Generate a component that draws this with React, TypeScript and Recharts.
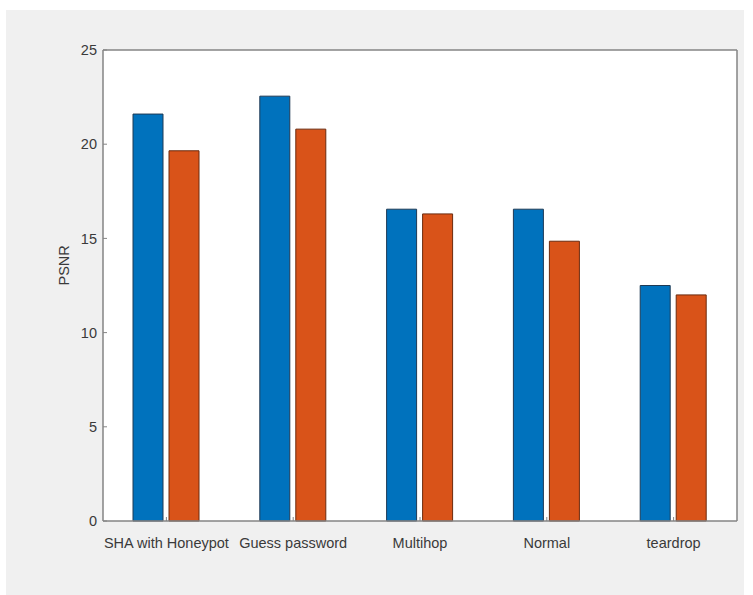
import React from 'react';
import { BarChart, Bar, XAxis, YAxis, CartesianGrid } from 'recharts';

const categories = ['SHA with Honeypot', 'Guess password', 'Multihop', 'Normal', 'teardrop'];
const firstSeries = [21.6, 22.55, 16.55, 16.55, 12.5];
const secondSeries = [19.65, 20.8, 16.3, 14.85, 12.0];
const yTicks = [0, 5, 10, 15, 20, 25];

const data = categories.map((name, i) => ({ name, a: firstSeries[i], b: secondSeries[i] }));

const AXIS = '#858585';
const TEXT = '#3a3a3a';
const FONT = '"Liberation Sans", Arial, sans-serif';

export default function App() {
  return (
    <div style={{ position: 'absolute', left: 0, top: 0, width: 753, height: 595, background: '#fff', overflow: 'hidden' }}>
      {/* figure background */}
      <div style={{ position: 'absolute', left: 6, top: 10, width: 738, height: 585, background: '#f0f0f0' }} />
      <div style={{ position: 'absolute', left: 0, top: 0 }}>
        <BarChart
          width={753}
          height={595}
          data={data}
          margin={{ top: 49, right: 15, left: 0, bottom: 0 }}
          barSize={30}
          barGap={6}
          style={{ fontFamily: FONT }}
        >
          <CartesianGrid horizontal={false} vertical={false} fill="#fff" />
          <XAxis
            dataKey="name"
            height={74}
            axisLine={{ stroke: AXIS, strokeWidth: 1.5 }}
            tickLine={{ stroke: AXIS }}
            tickSize={-4}
            tickMargin={21}
            tick={{ fill: TEXT, fontSize: 14.5 }}
            interval={0}
          />
          <XAxis
            xAxisId="top"
            dataKey="name"
            orientation="top"
            height={1}
            axisLine={{ stroke: AXIS, strokeWidth: 1.5 }}
            tickLine={{ stroke: AXIS }}
            tickSize={-4}
            tick={false}
          />
          <YAxis
            width={103}
            domain={[0, 25]}
            ticks={yTicks}
            axisLine={{ stroke: AXIS, strokeWidth: 1.5 }}
            tickLine={{ stroke: AXIS }}
            tickSize={-4}
            tickMargin={10}
            tick={{ fill: TEXT, fontSize: 14.5 }}
            label={{ value: 'PSNR', angle: -90, position: 'insideLeft', offset: 64, fill: TEXT, fontSize: 14.5 }}
          />
          <YAxis
            yAxisId="right"
            orientation="right"
            width={1}
            domain={[0, 25]}
            ticks={yTicks}
            axisLine={{ stroke: AXIS, strokeWidth: 1.5 }}
            tickLine={{ stroke: AXIS }}
            tickSize={-4}
            tick={false}
          />
          <Bar dataKey="a" fill="#0072BD" stroke="#1e3a55" strokeWidth={1} isAnimationActive={false} />
          <Bar dataKey="b" fill="#D95319" stroke="#6b2a0e" strokeWidth={1} isAnimationActive={false} />
        </BarChart>
      </div>
    </div>
  );
}
